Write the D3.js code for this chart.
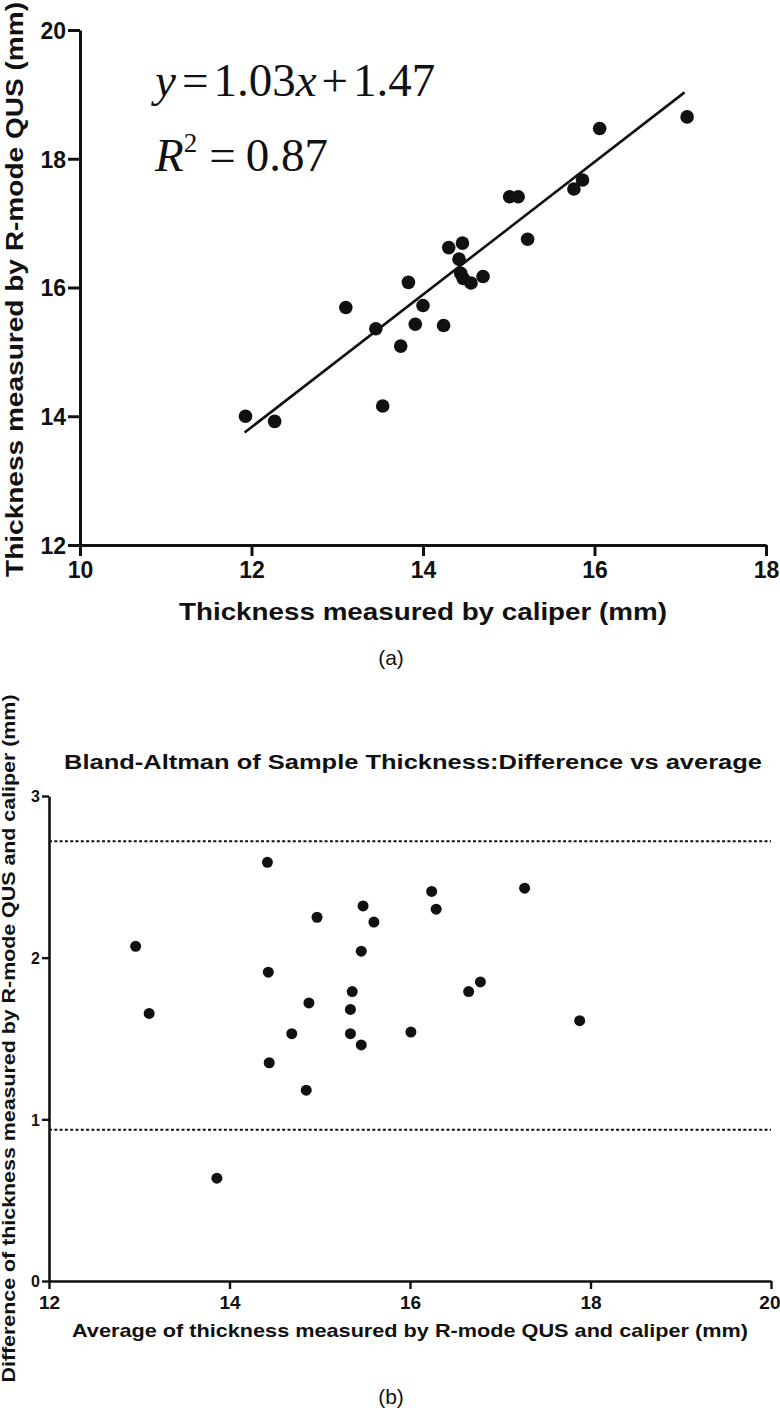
<!DOCTYPE html>
<html><head><meta charset="utf-8">
<script src="https://cdn.jsdelivr.net/npm/d3@7"></script>
<style>body{margin:0;background:#fff} svg{display:block}</style>
</head><body>
<script>
// ---- Panel (a): caliper vs R-mode QUS ----
const caliper = [11.93,12.27,13.53,13.10,13.45,13.74,13.91,14.00,13.83,14.24,14.30,14.46,14.42,14.44,14.47,14.56,14.70,15.01,15.11,15.22,15.76,15.86,16.06,17.08];
const rmode   = [14.00,13.92,14.16,15.69,15.36,15.09,15.43,15.72,16.08,15.41,16.62,16.69,16.44,16.22,16.14,16.07,16.17,17.41,17.41,16.75,17.53,17.67,18.47,18.65];
const xTicksA = [10,12,14,16,18];
const yTicksA = [12,14,16,18,20];
const fitSlope = 1.03, fitIntercept = 1.47;
const fitRange = [11.92, 17.05];

// ---- Panel (b): Bland-Altman ----
const baAvg  = [14.42,12.96,13.11,14.43,14.44,14.69,14.85,14.88,14.97,15.34,15.34,15.36,15.46,15.46,15.48,15.60,16.01,16.24,16.29,16.65,16.78,17.27,17.88,13.86];
const baDiff = [2.59,2.07,1.655,1.91,1.35,1.53,1.18,1.72,2.25,1.68,1.53,1.79,1.46,2.04,2.32,2.22,1.54,2.41,2.30,1.79,1.85,2.43,1.61,0.636];
const xTicksB = [12,14,16,18,20];
const yTicksB = [0,1,2,3];
const loaLines = [2.72, 0.935];

const W = 780, H = 1408;
const svg = d3.select("body").append("svg").attr("width", W).attr("height", H);
const SANS = "'Liberation Sans', Arial, sans-serif";

// ================= Panel (a) =================
const xA = d3.scaleLinear().domain([10,18]).range([80,766]);
const yA = d3.scaleLinear().domain([12,20]).range([545,30]);
const gA = svg.append("g");

const axA_x = gA.append("g").attr("transform", `translate(0,${yA(12)})`)
  .call(d3.axisBottom(xA).tickValues(xTicksA).tickSize(11).tickSizeOuter(0).tickPadding(6).tickFormat(d3.format("d")));
const axA_y = gA.append("g").attr("transform", `translate(${xA(10)},0)`)
  .call(d3.axisLeft(yA).tickValues(yTicksA).tickSize(12).tickSizeOuter(0).tickPadding(2).tickFormat(d3.format("d")));
[axA_x, axA_y].forEach(a => {
  a.select(".domain").attr("stroke", "#111").attr("stroke-width", 3);
  a.selectAll(".tick line").attr("stroke", "#111").attr("stroke-width", 3);
  a.selectAll(".tick text").attr("fill", "#111").style("font-family", SANS)
    .style("font-weight", "bold").style("font-size", "23px");
});
axA_y.selectAll(".tick text").attr("dy", "0.36em");

// regression line
const lineA = d3.line().x(d => xA(d)).y(d => yA(fitSlope * d + fitIntercept));
gA.append("path").datum(fitRange).attr("d", lineA).attr("fill", "none")
  .attr("stroke", "#111").attr("stroke-width", 2.6);

// points
gA.append("g").selectAll("circle").data(caliper).join("circle")
  .attr("cx", d => xA(d)).attr("cy", (d,i) => yA(rmode[i])).attr("r", 6.8).attr("fill", "#111");

// titles
gA.append("text").attr("x", xA(14)).attr("y", 620).attr("text-anchor", "middle")
  .style("font-family", SANS).style("font-weight", "bold").style("font-size", "24px")
  .attr("textLength", 488).attr("lengthAdjust", "spacingAndGlyphs").attr("fill", "#111")
  .text("Thickness measured by caliper (mm)");
gA.append("text").attr("transform", `translate(23,${(yA(12)+yA(20))/2 + 2}) rotate(-90)`)
  .attr("text-anchor", "middle")
  .style("font-family", SANS).style("font-weight", "bold").style("font-size", "24px")
  .attr("textLength", 575).attr("lengthAdjust", "spacingAndGlyphs").attr("fill", "#111")
  .text("Thickness measured by R-mode QUS (mm)");

// equation
const SERIF = "'Liberation Serif', 'Times New Roman', serif";
const eq = gA.append("text").attr("x", 155).attr("y", 96)
  .style("font-family", SERIF).style("font-size", "47px").attr("fill", "#111");
eq.append("tspan").style("font-style", "italic").text("y");
eq.append("tspan").attr("dx", 6).text("=");
eq.append("tspan").attr("dx", 5).text("1.03");
eq.append("tspan").style("font-style", "italic").text("x");
eq.append("tspan").attr("dx", 5).text("+");
eq.append("tspan").attr("dx", 5).text("1.47");

const r2 = gA.append("text").attr("x", 155).attr("y", 171)
  .style("font-family", SERIF).style("font-size", "47px").attr("fill", "#111");
r2.append("tspan").style("font-style", "italic").text("R");
r2.append("tspan").attr("dy", -19).style("font-size", "27px").text("2");
r2.append("tspan").attr("dy", 19).attr("dx", 12).text("=");
r2.append("tspan").attr("dx", 10).text("0.87");

svg.append("text").attr("x", 391).attr("y", 665).attr("text-anchor", "middle")
  .style("font-family", SANS).style("font-size", "21px").attr("fill", "#111").text("(a)");

// ================= Panel (b) =================
const xB = d3.scaleLinear().domain([12,20]).range([49,771]);
const yB = d3.scaleLinear().domain([0,3]).range([1281,796]);
const gB = svg.append("g");

const axB_x = gB.append("g").attr("transform", `translate(0,${yB(0)})`)
  .call(d3.axisBottom(xB).tickValues(xTicksB).tickSize(8).tickSizeOuter(0).tickPadding(7).tickFormat(d3.format("d")));
const axB_y = gB.append("g").attr("transform", `translate(${xB(12)},0)`)
  .call(d3.axisLeft(yB).tickValues(yTicksB).tickSize(7).tickSizeOuter(0).tickPadding(2).tickFormat(d3.format("d")));
[axB_x, axB_y].forEach(a => {
  a.select(".domain").attr("stroke", "#111").attr("stroke-width", 2.6);
  a.selectAll(".tick line").attr("stroke", "#111").attr("stroke-width", 2.4);
  a.selectAll(".tick text").attr("fill", "#111").style("font-family", SANS)
    .style("font-weight", "bold");
});
axB_x.selectAll(".tick text").style("font-size", "19px");
// keep the last label inside the page edge
axB_x.selectAll(".tick text").filter(d => d === 20).attr("text-anchor", "end").attr("x", 9);
axB_y.selectAll(".tick text").style("font-size", "16px").attr("dy", "0.36em");

// limits of agreement
gB.append("g").selectAll("line").data(loaLines).join("line")
  .attr("x1", xB(12)).attr("x2", xB(20)).attr("y1", d => yB(d)).attr("y2", d => yB(d))
  .attr("stroke", "#111").attr("stroke-width", 2).attr("stroke-dasharray", "3,2.3");

gB.append("g").selectAll("circle").data(baAvg).join("circle")
  .attr("cx", d => xB(d)).attr("cy", (d,i) => yB(baDiff[i])).attr("r", 5.5).attr("fill", "#111");

gB.append("text").attr("x", 413).attr("y", 769).attr("text-anchor", "middle")
  .style("font-family", SANS).style("font-weight", "bold").style("font-size", "20px")
  .attr("textLength", 698).attr("lengthAdjust", "spacingAndGlyphs").attr("fill", "#111")
  .text("Bland-Altman of Sample Thickness:Difference vs average");
gB.append("text").attr("x", xB(16)).attr("y", 1337).attr("text-anchor", "middle")
  .style("font-family", SANS).style("font-weight", "bold").style("font-size", "19px")
  .attr("textLength", 676).attr("lengthAdjust", "spacingAndGlyphs").attr("fill", "#111")
  .text("Average of thickness measured by R-mode QUS and caliper (mm)");
gB.append("text").attr("transform", `translate(15,${(yB(0)+yB(3))/2 + 0}) rotate(-90)`)
  .attr("text-anchor", "middle")
  .style("font-family", SANS).style("font-weight", "bold").style("font-size", "18px")
  .attr("textLength", 688).attr("lengthAdjust", "spacingAndGlyphs").attr("fill", "#111")
  .text("Difference of thickness measured by R-mode QUS and caliper (mm)");

svg.append("text").attr("x", 391).attr("y", 1404).attr("text-anchor", "middle")
  .style("font-family", SANS).style("font-size", "21px").attr("fill", "#111").text("(b)");
</script>
</body></html>
